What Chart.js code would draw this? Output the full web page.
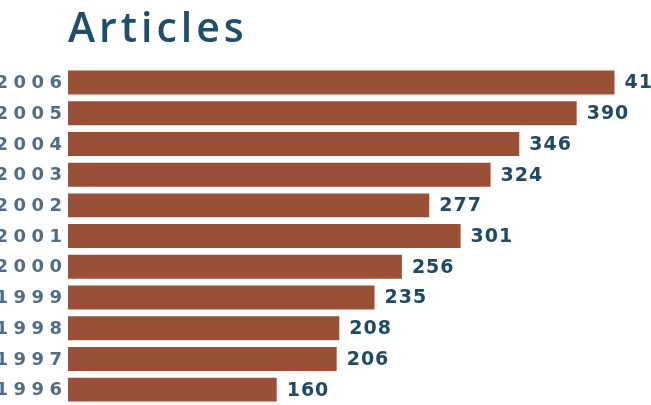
<!DOCTYPE html>
<html>
<head>
<meta charset="utf-8">
<script src="https://cdn.jsdelivr.net/npm/chart.js@4/dist/chart.umd.min.js"></script>
<style>
  html, body { margin: 0; padding: 0; background: #ffffff; overflow: hidden; }
  #wrap { position: relative; width: 651px; height: 405px; }
</style>
</head>
<body>
<div id="wrap"><canvas id="c"></canvas></div>
<script>
const years = ['2006', '2005', '2004', '2003', '2002', '2001', '2000', '1999', '1998', '1997', '1996'];
const articles = [419, 390, 346, 324, 277, 301, 256, 235, 208, 206, 160];
const titleText = 'Articles';

const barColor = '#9a4f37';
const valueColor = '#1f4a66';
const yearColor = '#4f6d87';
const titleColor = '#1d4e6b';

const spacingPlugin = {
  id: 'spacing',
  beforeDraw(chart) { chart.ctx.letterSpacing = '4px'; },
  beforeDatasetsDraw(chart) { chart.ctx.letterSpacing = '0px'; }
};

const labelsPlugin = {
  id: 'labels',
  afterDatasetsDraw(chart) {
    const ctx = chart.ctx;
    const yScale = chart.scales.y;
    const meta = chart.getDatasetMeta(0);
    ctx.save();
    // year labels
    ctx.font = 'bold 18px "DejaVu Sans"';
    ctx.fillStyle = yearColor;
    ctx.textAlign = 'right';
    ctx.textBaseline = 'middle';
    ctx.letterSpacing = '5.5px';
    years.forEach((y, i) => {
      ctx.fillText(y, yScale.right - 6 + 5.5, yScale.getPixelForTick(i) + 1);
    });
    // value labels
    ctx.font = 'bold 19px "DejaVu Sans"';
    ctx.fillStyle = valueColor;
    ctx.textAlign = 'left';
    ctx.letterSpacing = '1px';
    meta.data.forEach((bar, i) => {
      ctx.fillText(String(articles[i]), bar.x + 10, bar.y + 1);
    });
    ctx.restore();
  }
};

new Chart(document.getElementById('c'), {
  type: 'bar',
  data: {
    labels: years,
    datasets: [{
      data: articles,
      backgroundColor: barColor,
      borderWidth: 0,
      categoryPercentage: 1,
      barPercentage: 0.78
    }]
  },
  options: {
    indexAxis: 'y',
    responsive: true,
    maintainAspectRatio: false,
    animation: false,
    devicePixelRatio: 1,
    layout: { padding: { left: 0, right: 0, top: 0, bottom: 0 } },
    plugins: {
      legend: { display: false },
      tooltip: { enabled: false },
      title: {
        display: true,
        text: titleText,
        align: 'start',
        fullSize: false,
        color: titleColor,
        font: { family: '"Open Sans"', size: 41, weight: '600', lineHeight: 1.2 },
        padding: { top: 6, bottom: 12 }
      }
    },
    scales: {
      x: {
        display: false,
        min: 0,
        max: 447
      },
      y: {
        type: 'category',
        grid: { display: false },
        border: { display: false },
        ticks: { display: false },
        afterFit(scale) { scale.width = 68; }
      }
    }
  },
  plugins: [spacingPlugin, labelsPlugin]
});
</script>
</body>
</html>
